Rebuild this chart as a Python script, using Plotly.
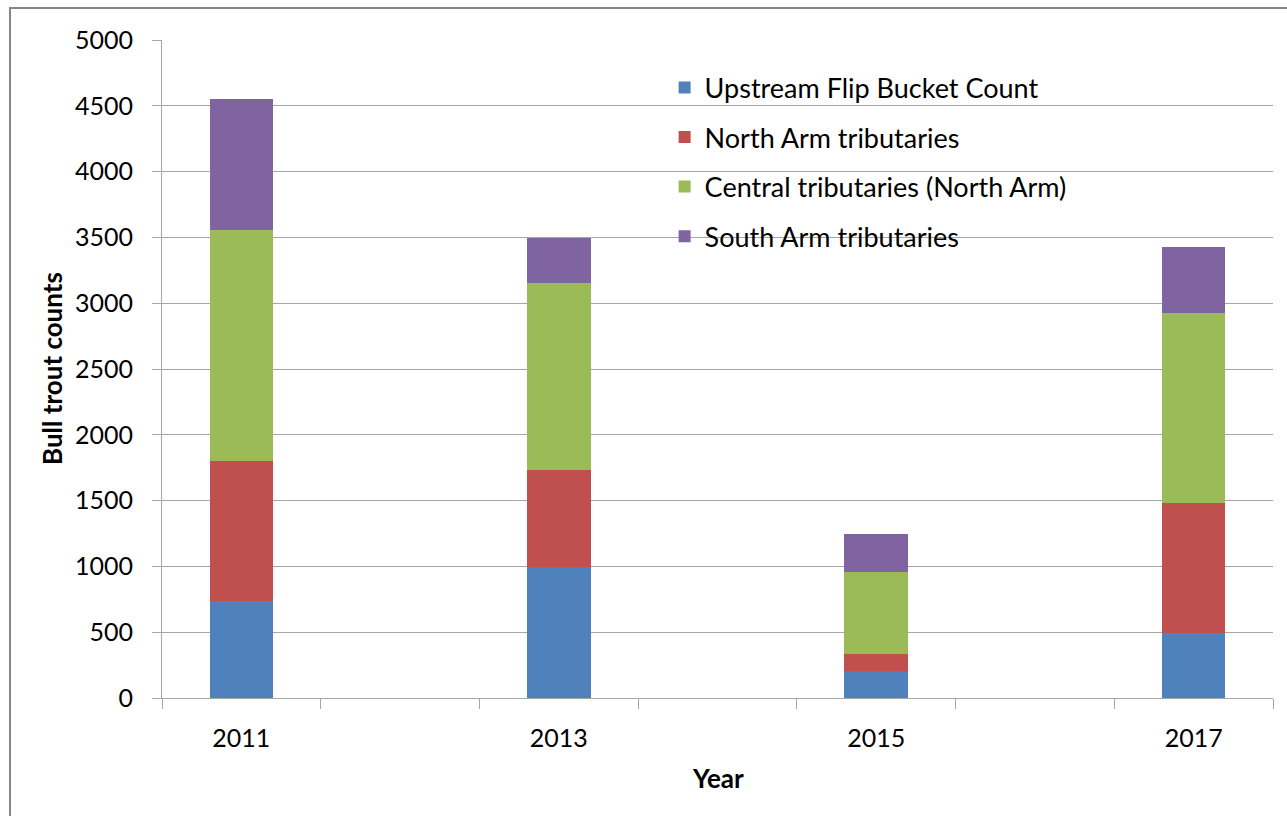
import plotly.graph_objects as go

# Survey years and stacked counts per area
years = [2011, 2013, 2015, 2017]
upstream_flip_bucket = [737, 996, 205, 494]
north_arm = [1062, 740, 127, 988]
central_north_arm = [1757, 1414, 626, 1440]
south_arm = [993, 347, 292, 502]

series = [
    ("Upstream Flip Bucket Count", upstream_flip_bucket, "#4F81BD"),
    ("North Arm tributaries", north_arm, "#C0504D"),
    ("Central tributaries (North Arm)", central_north_arm, "#9BBB59"),
    ("South Arm tributaries", south_arm, "#8064A2"),
]

FONT = "Lato, Open Sans, sans-serif"
GRID = "#a6a6a6"

fig = go.Figure()
for i, (name, vals, color) in enumerate(series):
    fig.add_trace(go.Bar(
        x=years, y=vals, name=name, width=0.4,
        marker=dict(color=color, line=dict(width=0)),
        legendgroup=f"g{i}",
    ))

fig.update_layout(
    width=1287, height=816,
    margin=dict(l=162, r=14, t=40, b=118),
    barmode="stack",
    paper_bgcolor="white", plot_bgcolor="white",
    font=dict(family=FONT, size=25, color="black"),
    showlegend=True,
    legend=dict(
        x=0.4524, y=0.9645, xanchor="left", yanchor="top",
        traceorder="grouped", tracegroupgap=11.5,
        bgcolor="rgba(0,0,0,0)",
        font=dict(family=FONT, size=27, color="black"),
        itemclick=False,
    ),
    xaxis=dict(
        range=[2010.5, 2017.5],
        tickvals=years, ticktext=[str(y) for y in years],
        ticks="", ticklabelstandoff=18,
        showgrid=False, zeroline=False,
        showline=True, linecolor=GRID, linewidth=1,
        minor=dict(ticks="outside", tick0=2010.5, dtick=1, ticklen=10,
                   tickcolor=GRID, tickwidth=1, showgrid=False),
        tickfont=dict(size=25),
    ),
    yaxis=dict(
        range=[0, 5000], dtick=500,
        showgrid=True, gridcolor=GRID, gridwidth=1,
        zeroline=False,
        showline=True, linecolor=GRID, linewidth=1,
        ticks="outside", ticklen=9, tickcolor=GRID, tickwidth=1,
        ticklabelstandoff=14,
        tickfont=dict(size=25),
    ),
    shapes=[
        # white panel behind the legend, covering the gridlines there
        dict(type="rect", xref="paper", yref="y", layer="between",
             x0=0.4266, x1=0.8506, y0=3380, y1=4880,
             fillcolor="white", line=dict(width=0)),
        # outer chart frame
        dict(type="rect", xref="paper", yref="paper",
             x0=-0.1368, x1=1.05, y0=-0.25, y1=1.0486,
             fillcolor="rgba(0,0,0,0)", line=dict(color="#868686", width=2)),
    ],
    annotations=[
        dict(text="<b>Bull trout counts</b>", textangle=-90,
             xref="paper", yref="paper", x=(52 - 162) / 1111, y=0.5,
             xanchor="center", yanchor="middle", showarrow=False,
             font=dict(family=FONT, size=26, color="black")),
        dict(text="<b>Year</b>",
             xref="paper", yref="paper", x=0.5, y=-(778 - 698) / 658,
             xanchor="center", yanchor="middle", showarrow=False,
             font=dict(family=FONT, size=26, color="black")),
    ],
)

fig.write_html("out.html")
